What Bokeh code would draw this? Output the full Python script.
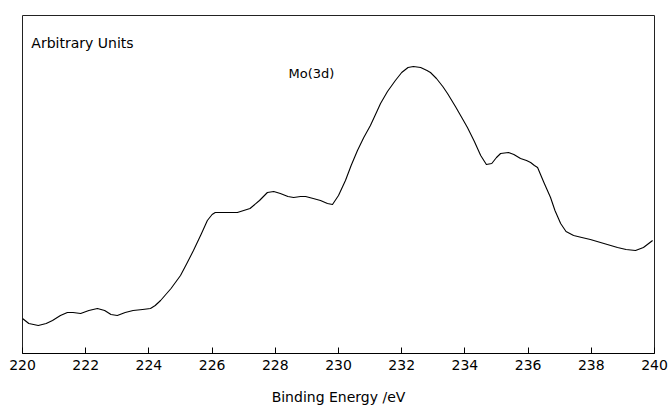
from bokeh.plotting import figure
from bokeh.models import Range1d, FixedTicker, Label
from bokeh.embed import file_html
from bokeh.resources import INLINE

# Mo(3d) photoelectron spectrum, intensity in arbitrary units
binding_energy = [
    220.0, 220.2, 220.5, 220.75, 220.95, 221.2, 221.42, 221.6, 221.84, 222.1,
    222.37, 222.6, 222.8, 223.0, 223.25, 223.5, 223.8, 224.05, 224.2, 224.37,
    224.7, 225.0, 225.2, 225.41, 225.65, 225.85, 226.0, 226.1, 226.4, 226.8,
    227.0, 227.2, 227.5, 227.75, 227.95, 228.16, 228.4, 228.58, 228.8, 228.96,
    229.2, 229.43, 229.65, 229.81, 230.0, 230.22, 230.4, 230.6, 230.8, 231.01,
    231.2, 231.33, 231.55, 231.8, 232.0, 232.2, 232.37, 232.6, 232.8, 232.91,
    233.1, 233.3, 233.45, 233.7, 233.9, 234.08, 234.3, 234.5, 234.68, 234.85,
    235.0, 235.13, 235.38, 235.55, 235.76, 235.95, 236.08, 236.2, 236.3, 236.5,
    236.71, 236.85, 237.03, 237.2, 237.44, 237.7, 237.97, 238.4, 238.83, 239.1,
    239.4, 239.65, 239.94,
]
intensity = [
    35, 30, 28, 30, 33, 38, 41, 41, 40, 43,
    45, 43, 39, 38, 41, 43, 44, 45, 48, 53,
    65, 78, 90, 103, 119, 133, 139, 141, 141, 141,
    143, 145, 153, 161, 162, 160, 157, 156, 157, 157,
    155, 153, 150, 149, 158, 173, 188, 203, 216, 228,
    241, 250, 262, 273, 281, 286, 287, 286, 283, 281,
    275, 267, 260, 247, 236, 226, 212, 198, 189, 190,
    196, 200, 201, 199, 195, 193, 191, 188, 186, 171,
    156, 143, 130, 122, 118, 116, 114, 110, 106, 104,
    103, 106, 113,
]
x_ticks = [220, 222, 224, 226, 228, 230, 232, 234, 236, 238, 240]

FONT = "DejaVu Sans"

p = figure(
    width=670, height=410,
    output_backend="svg", toolbar_location=None,
    x_range=Range1d(220, 240), y_range=Range1d(0, 338),
    min_border_left=22, min_border_right=16, min_border_top=15, min_border_bottom=57,
    background_fill_color="white", border_fill_color="white",
)
p.grid.visible = False
p.yaxis.visible = False
p.outline_line_color = "#222222"
p.outline_line_width = 1

ax = p.xaxis[0]
ax.ticker = FixedTicker(ticks=x_ticks)
ax.minor_tick_line_color = None
ax.major_tick_in = 6
ax.major_tick_out = 0
ax.major_tick_line_color = "black"
ax.axis_line_color = "black"
ax.major_label_text_font = FONT
ax.major_label_text_font_size = "14px"
ax.major_label_text_color = "black"
ax.major_label_standoff = 6
ax.axis_label = "Binding Energy /eV"
ax.axis_label_text_font = FONT
ax.axis_label_text_font_size = "14px"
ax.axis_label_text_font_style = "normal"
ax.axis_label_text_color = "black"
ax.axis_label_standoff = 16

p.line(binding_energy, intensity, line_color="black", line_width=1.1,
       line_join="round")

p.add_layout(Label(x=220.28, y=311, text="Arbitrary Units", text_font=FONT,
                   text_font_size="14px", text_color="black", text_baseline="alphabetic"))
p.add_layout(Label(x=228.42, y=280, text="Mo(3d)", text_font=FONT,
                   text_font_size="13px", text_color="black", text_baseline="alphabetic"))

open("out.html", "w").write(file_html(p, INLINE))
